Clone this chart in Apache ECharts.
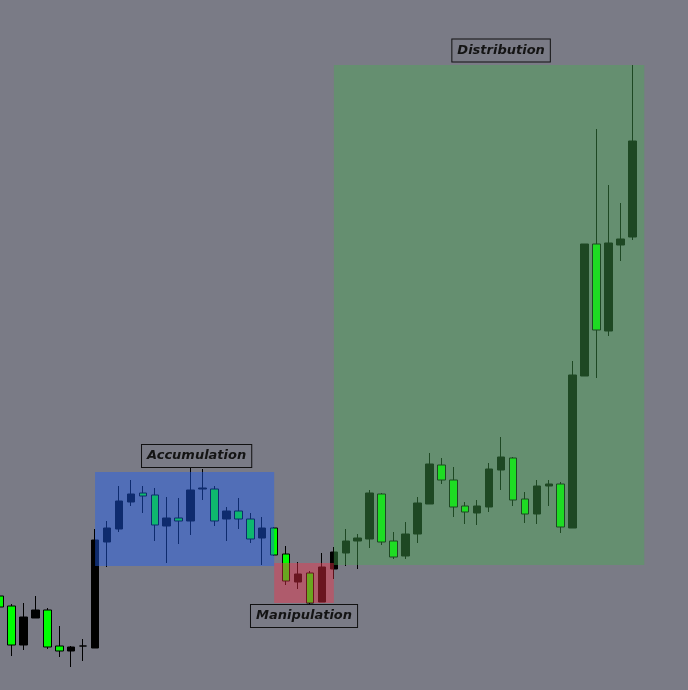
<!DOCTYPE html>
<html><head><meta charset="utf-8">
<script src="https://cdn.jsdelivr.net/npm/echarts@6/dist/echarts.min.js"></script>
<style>html,body{margin:0;padding:0;background:#7a7b86}#c{width:688px;height:690px}</style>
</head><body><div id="c"></div>
<script>
// Bar slots (category axis); the last few slots are empty space on the right
const bars = ['B01','B02','B03','B04','B05','B06','B07','B08','B09','B10','B11','B12','B13','B14','B15','B16','B17','B18','B19','B20','B21','B22','B23','B24','B25','B26','B27','B28','B29','B30','B31','B32','B33','B34','B35','B36','B37','B38','B39','B40','B41','B42','B43','B44','B45','B46','B47','B48','B49','B50','B51','B52','B53','B54','B55','B56','B57','B58'];
const openP  = [94,84,45,72,80,44,39,44,42,148,161,188,197,195,164,172,169,201,201,171,179,171,152,162,136,108,117,88,121,137,149,151,196,149,134,156,186,225,210,184,177,183,220,232,191,176,204,206,162,314,446,359,445,453];
const closeP = [83,45,73,80,43,39,43,44,150,162,189,196,194,165,172,169,200,202,169,179,171,151,162,135,109,116,87,123,138,149,152,197,148,133,156,187,226,210,183,178,184,221,233,190,176,204,206,163,315,446,360,447,451,549];
const lowP   = [78,34,40,72,41,33,23,29,42,123,158,184,177,149,127,146,155,190,164,149,161,147,125,134,105,101,84,88,111,124,121,142,145,131,131,147,186,206,173,166,165,178,200,184,167,166,184,157,162,314,312,354,429,450];
const highP  = [98,86,87,94,82,64,44,51,161,169,204,210,204,202,193,192,224,221,204,183,192,177,173,163,144,128,119,137,143,161,156,200,197,158,168,193,237,232,223,188,190,227,253,233,198,210,210,208,329,446,561,505,487,625];

// Phase zones
const zoneNames = ['Accumulation','Manipulation','Distribution'];
const zoneStart = [8,23,28];
const zoneEnd   = [23,28,54];
const zoneLow   = [124,87,125];
const zoneHigh  = [218,127,625];

const zoneFill = ['rgba(30,95,245,0.45)','rgba(246,49,74,0.43)','rgba(71,171,83,0.42)'];
const labelSide = ['top','bottom','top'];
const labelDx = [12,0,12];
const labelGap = [5,2,3.5];
const BG = '#7a7b86';

const candleData = openP.map((o,i)=>[o, closeP[i], lowP[i], highP[i]]);
const zoneData = zoneNames.map((n,i)=>[zoneStart[i], zoneEnd[i], zoneLow[i], zoneHigh[i], i]);

const chart = echarts.init(document.getElementById('c'), null, {renderer:'canvas'});
chart.setOption({
  animation:false,
  backgroundColor: BG,
  grid:{left:-6.41, top:0, width:692.5, height:690, outerBoundsMode:'none', containLabel:false},
  xAxis:{type:'category', data:bars, show:false, boundaryGap:true},
  yAxis:{type:'value', min:0, max:690, show:false, splitLine:{show:false}},
  series:[
    {
      type:'candlestick',
      z:2,
      barWidth:8,
      clip:false,
      data:candleData,
      itemStyle:{color:'#000000', color0:'#00ff00', borderColor:'#000000', borderColor0:'#000000', borderWidth:1}
    },
    {
      type:'custom',
      z:5,
      clip:false,
      data:zoneData,
      encode:{x:[0,1], y:[2,3]},
      renderItem:function(params, api){
        const i = api.value(4);
        const p1 = api.coord([api.value(0), api.value(3)]);
        const p2 = api.coord([api.value(1), api.value(2)]);
        const cx = (p1[0]+p2[0])/2 + labelDx[i];
        const top = labelSide[i]==='top';
        return {
          type:'group',
          children:[
            {type:'rect', shape:{x:p1[0], y:p1[1], width:p2[0]-p1[0], height:p2[1]-p1[1]}, style:{fill:zoneFill[i]}},
            {type:'text', x:cx, y: top ? p1[1]-labelGap[i] : p2[1]+labelGap[i],
              style:{text:zoneNames[i], font:'italic bold 13px "DejaVu Sans"', fill:'#141414',
                align:'center', verticalAlign: top ? 'bottom':'top',
                backgroundColor:BG, borderColor:'#111111', borderWidth:1, padding:[3,5], lineHeight:16}}
          ]
        };
      }
    }
  ]
});
</script></body></html>
